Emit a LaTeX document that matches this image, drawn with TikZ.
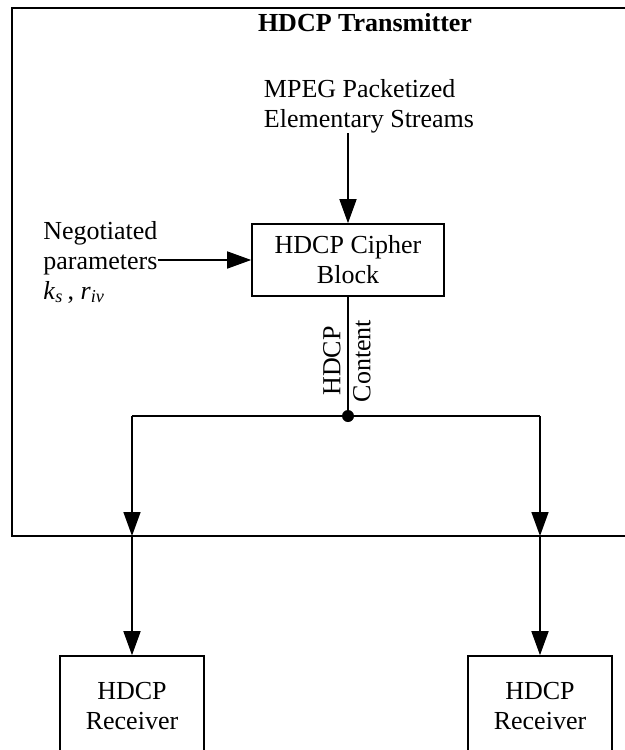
\documentclass[tikz,border=0pt]{standalone}
\usepackage{fontspec}
\setmainfont{Liberation Serif}
\usepackage{tikz}
\usetikzlibrary{arrows.meta,positioning}

\begin{document}
\begin{tikzpicture}[x=0.5pt,y=-0.5pt,
  every node/.style={font=\fontsize{13}{15}\selectfont},
  blk/.style={draw,line width=0.8pt,align=center,inner sep=0pt},
  wire/.style={line width=0.8pt},
  arr/.style={wire,-{Triangle[length=12pt,width=8.5pt]}}]
\useasboundingbox (0,0) rectangle (625,750);
% transmitter frame (runs off the right edge)
\draw[line width=1pt] (12,8) rectangle (700,536);
\node[font=\fontsize{13}{15}\selectfont\bfseries] (title) at (365,23) {HDCP Transmitter};
\node[align=left,inner sep=0pt] (mpeg) at (369,106) {MPEG Packetized\\Elementary Streams};
\node[blk,minimum width=96pt,minimum height=36pt] (cipher) at (348,260) {HDCP Cipher\\Block};
\node[align=left,anchor=west,inner sep=0pt] (negot) at (43,262)
  {Negotiated\\parameters\\\textit{k}\textsubscript{\textit{s}}\,, \textit{r}\textsubscript{\textit{iv}}};
\node[rotate=90,align=center,inner sep=0pt] (content) at (347,361) {HDCP\\Content};
% splitting point
\coordinate (split) at (348,416);
\coordinate (lsplit) at (132,416);
\coordinate (rsplit) at (540,416);
\coordinate (lport) at (132,536);
\coordinate (rport) at (540,536);
% receivers (cut by the lower edge)
\node[blk,minimum width=72pt,minimum height=50pt] (rxl) at (132,706) {HDCP\\Receiver};
\node[blk,minimum width=72pt,minimum height=50pt] (rxr) at (540,706) {HDCP\\Receiver};

\draw[arr] (mpeg.south -| cipher.north) -- (cipher.north);
\draw[arr] (negot.east |- cipher.west) -- (cipher.west);
\draw[wire] (cipher.south) -- (split);
\fill (split) circle (3pt);
\draw[wire] (lsplit) -- (rsplit);
\draw[arr] (lsplit) -- (lport);
\draw[arr] (rsplit) -- (rport);
\draw[arr] (lport) -- (rxl.north);
\draw[arr] (rport) -- (rxr.north);
\end{tikzpicture}
\end{document}
